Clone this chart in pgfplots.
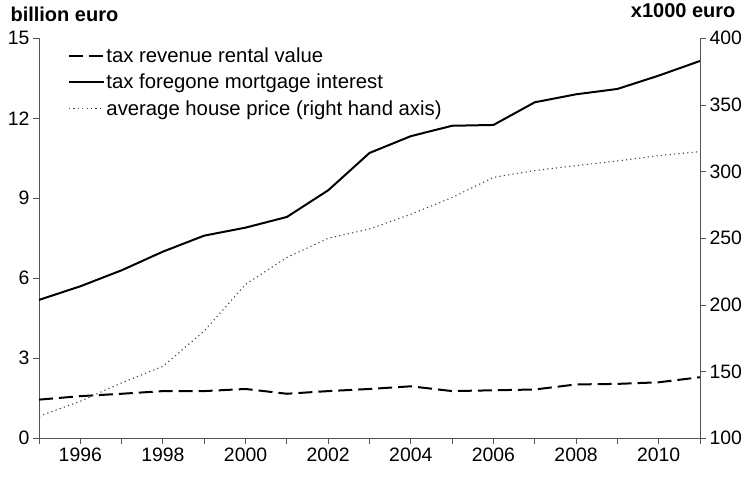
\documentclass[border=0pt]{standalone}
\usepackage{pgfplots}
\pgfplotsset{compat=1.18}
\usepackage{fontspec}
\setmainfont{Liberation Sans}
\definecolor{axgray}{RGB}{85,85,85}
\definecolor{dotgray}{RGB}{70,70,70}
\begin{document}
\begin{tikzpicture}
\pgfplotsset{
  every axis/.append style={
    scale only axis, width=661pt, height=400pt,
    xmin=1995, xmax=2011,
    tick align=outside,
    major tick length=6pt, minor tick length=6pt,
    axis line style={axgray, line width=0.9pt},
    every tick/.style={axgray, line width=0.9pt},
    /pgf/number format/assume math mode=true,
    /pgf/number format/1000 sep={},
    ticklabel style={font=\fontsize{19.4}{22}\selectfont},
  }
}
\begin{axis}[
  axis x line*=bottom, axis y line*=left,
  ymin=0, ymax=15, ytick={0,3,6,9,12,15},
  xtick={1996,1998,...,2010},
  minor xtick={1995,1997,...,2011},
  legend style={draw=none, fill=none, at={(0.039,0.985)}, anchor=north west,
    font=\fontsize{20.3}{23}\selectfont, row sep=7pt,
    nodes={inner sep=1.5pt}},
  legend cell align=left,
  legend image code/.code={\draw[#1] (0pt,0pt) -- (35pt,0pt);},
]
\addplot[black, line width=2pt, dash pattern=on 14pt off 6pt] coordinates {
(1995,1.45) (1996,1.58) (1997,1.67) (1998,1.77) (1999,1.77) (2000,1.85)
(2001,1.67) (2002,1.77) (2003,1.85) (2004,1.95) (2005,1.77) (2006,1.80)
(2007,1.83) (2008,2.02) (2009,2.04) (2010,2.10) (2011,2.29)};
\addplot[black, line width=2pt] coordinates {
(1995,5.19) (1996,5.70) (1997,6.30) (1998,7.00) (1999,7.60) (2000,7.90)
(2001,8.30) (2002,9.30) (2003,10.70) (2004,11.33) (2005,11.72) (2006,11.75)
(2007,12.60) (2008,12.90) (2009,13.10) (2010,13.60) (2011,14.15)};
\addlegendimage{dotgray, line width=1.1pt, dash pattern=on 1.2pt off 3.2pt}
\legend{tax revenue rental value, tax foregone mortgage interest, average house price (right hand axis)}
\end{axis}
\begin{axis}[
  axis x line=none, axis y line*=right,
  ymin=100, ymax=400, ytick={100,150,...,400},
]
\addplot[dotgray, line width=1.1pt, dash pattern=on 1.2pt off 3.2pt] coordinates {
(1995,116.5) (1996,127.8) (1997,141.6) (1998,154) (1999,180.5) (2000,215.5)
(2001,235.6) (2002,250) (2003,257) (2004,268) (2005,280.6) (2006,295.7)
(2007,300.8) (2008,304.5) (2009,308) (2010,312) (2011,315)};
\end{axis}
\node[anchor=base west, font=\bfseries\fontsize{20}{23}\selectfont]
  at ([xshift=-32pt, yshift=17pt]current axis.north west) {billion euro};
\node[anchor=base east, font=\bfseries\fontsize{20}{23}\selectfont]
  at ([xshift=39pt, yshift=21pt]current axis.north east) {x1000 euro};
\path ([xshift=-39pt, yshift=-40pt]current axis.south west)
      ([xshift=50pt, yshift=38pt]current axis.north east);
\end{tikzpicture}
\end{document}
